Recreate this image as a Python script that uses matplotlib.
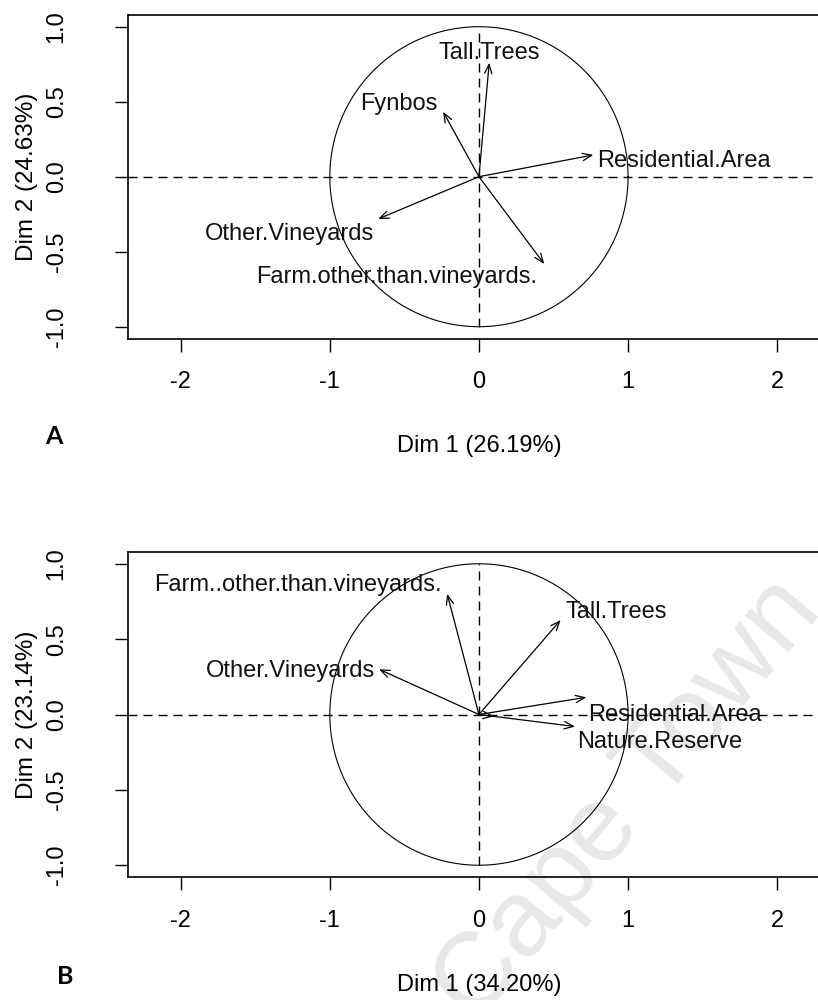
import numpy as np
import matplotlib
matplotlib.use('Agg')
import matplotlib.pyplot as plt

plt.rcParams['font.family'] = ['Liberation Sans', 'DejaVu Sans']
plt.rcParams['axes.unicode_minus'] = False

# Variable coordinates on the first two dimensions
names_a = ['Tall.Trees', 'Fynbos', 'Residential.Area', 'Other.Vineyards',
           'Farm.other.than.vineyards.']
dim1_a = [0.069, -0.24, 0.767, -0.676, 0.438]
dim2_a = [0.76, 0.433, 0.145, -0.282, -0.582]
var_a = ('Dim 1 (26.19%)', 'Dim 2 (24.63%)')

names_b = ['Farm..other.than.vineyards.', 'Tall.Trees', 'Other.Vineyards',
           'Residential.Area', 'Nature.Reserve', '']
dim1_b = [-0.213, 0.548, -0.67, 0.72, 0.645, 0.10]
dim2_b = [0.80, 0.627, 0.30, 0.114, -0.08, -0.012]
var_b = ('Dim 1 (34.20%)', 'Dim 2 (23.14%)')

xticks = [-2, -1, 0, 1, 2]
yticks = [-1.0, -0.5, 0.0, 0.5, 1.0]

# label placement: (dx px, dy px down to baseline, ha)
place_a = [(0, -4, 'center'), (-6, -2, 'right'), (4, 12, 'left'),
           (-4, 21, 'right'), (-7, 19, 'right')]
place_b = [(-6, -3, 'right'), (5, -2, 'left'), (-4, 8, 'right'),
           (2, 24, 'left'), (2, 21, 'left'), (0, 0, 'left')]

FS = 17
PX = 0.72  # points per pixel at 100 dpi

fig = plt.figure(figsize=(8.18, 10), dpi=100)


def corr_circle(rect, names, d1, d2, place, labels):
    ax = fig.add_axes(rect)
    ax.set_zorder(1)
    ax.set_facecolor('none')
    ax.set_xlim(-2.353, 2.353)
    ax.set_ylim(-1.08, 1.08)

    t = np.linspace(0, 2 * np.pi, 400)
    ax.plot(np.cos(t), np.sin(t), color='black', lw=0.8)
    ax.axhline(0, color='black', lw=1.0, dashes=(6.5, 4.3))
    ax.plot([0, 0], [-1, 1], color='black', lw=1.0, dashes=(6.5, 4.3))

    for name, x, y, (dx, dy, ha) in zip(names, d1, d2, place):
        ax.annotate('', xy=(x, y), xytext=(0, 0),
                    arrowprops=dict(arrowstyle='->,head_length=0.55,head_width=0.22',
                                    lw=0.9, color='black', shrinkA=0, shrinkB=0,
                                    mutation_scale=12))
        if name:
            ax.annotate(name, xy=(x, y), xytext=(dx * PX, -dy * PX),
                        textcoords='offset points', ha=ha, va='baseline',
                        fontsize=FS, color='#111111')

    ax.set_xticks(xticks)
    ax.set_xticklabels([str(v) for v in xticks])
    ax.set_yticks(yticks)
    ax.set_yticklabels(['%.1f' % v for v in yticks], rotation=90, va='center')
    ax.tick_params(axis='x', direction='out', length=9.4, width=1.0,
                   labelsize=FS, pad=14)
    ax.tick_params(axis='y', direction='out', length=9.4, width=1.0,
                   labelsize=FS, pad=34)
    for s in ax.spines.values():
        s.set_linewidth(1.2)
    ax.spines['right'].set_visible(False)

    xlab, ylab = labels
    ax.text(0.5, -0.33, xlab, transform=ax.transAxes, ha='center',
            va='center', fontsize=FS)
    ax.text(-0.1439, 0.5, ylab, transform=ax.transAxes, rotation=90,
            ha='center', va='center', fontsize=FS + 0.5)
    return ax


ax_a = corr_circle([0.1565, 0.6613, 0.858, 0.324], names_a, dim1_a, dim2_a,
                   place_a, var_a)
ax_b = corr_circle([0.1565, 0.1227, 0.858, 0.3256], names_b, dim1_b, dim2_b,
                   place_b, var_b)

fig.text(54 / 818, 1 - 436 / 1000, 'A', ha='center', va='center',
         fontsize=18, fontweight='bold', family=['Lato', 'DejaVu Sans'])
fig.text(65 / 818, 1 - 977 / 1000, 'B', ha='center', va='center',
         fontsize=18, fontweight='bold', family=['Lato', 'DejaVu Sans'])

# repository watermark, kept behind the axes
fig.text(628 / 818, 1 - 800 / 1000, 'Cape Town', ha='center', va='center',
         rotation=50, fontsize=78, color='#e8e8e8', zorder=0.5)

fig.savefig('out.png', dpi=100)
